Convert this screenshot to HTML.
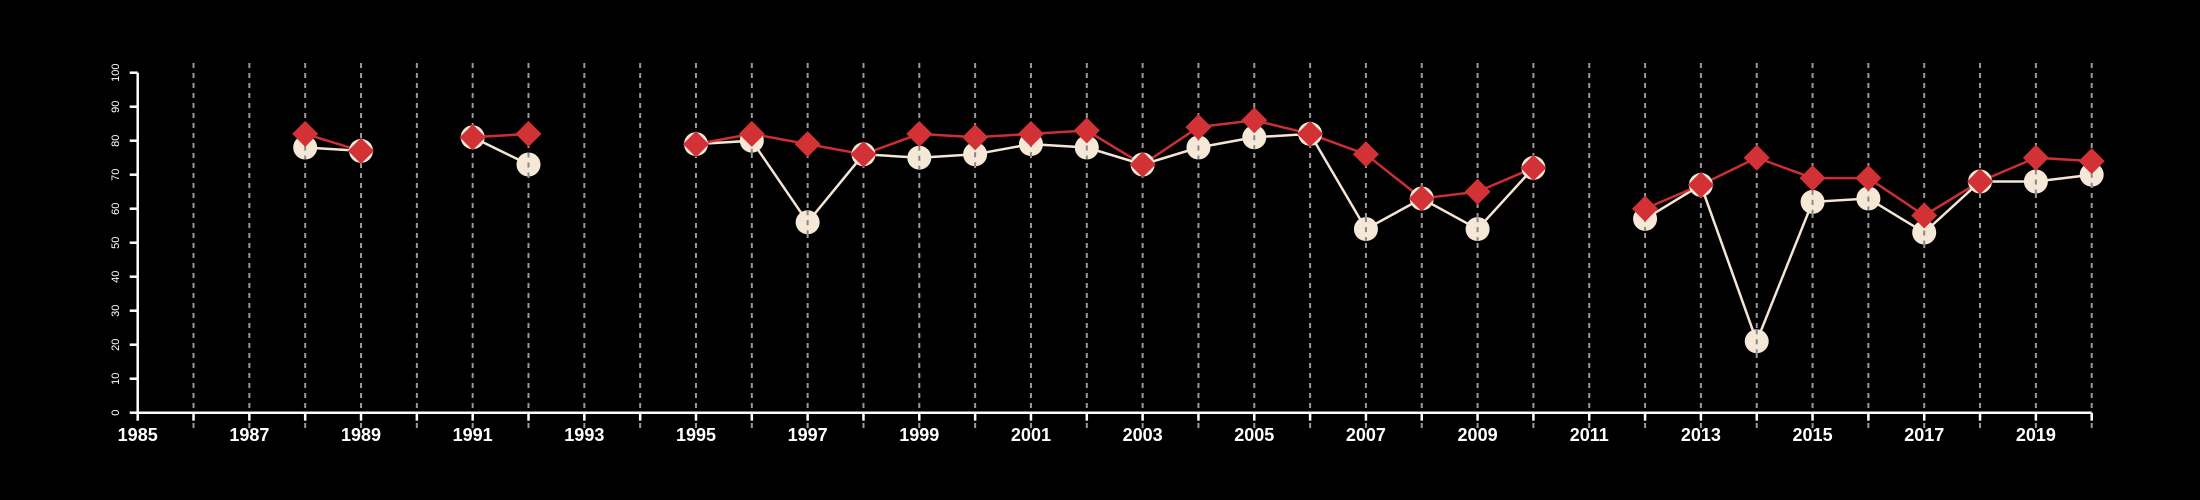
<!DOCTYPE html>
<html><head><meta charset="utf-8"><style>
html,body{margin:0;padding:0;background:#000;}
svg{display:block;font-family:"Liberation Sans",sans-serif;}
</style></head><body>
<svg id="chart" width="2200" height="500" viewBox="0 0 2200 500">
<g id="grid"></g>
<g id="axes"></g>
<g id="series"></g>
</svg>
<script>
const years = [1988,1989,1990,1991,1992,1993,1994,1995,1996,1997,1998,1999,2000,2001,2002,2003,2004,2005,2006,2007,2008,2009,2010,2011,2012,2013,2014,2015,2016,2017,2018,2019,2020];
const whiteSeries = [78,77,null,81,73,null,null,79,80,56,76,75,76,79,78,73,78,81,82,54,63,54,72,null,57,67,21,62,63,53,68,68,70];
const redSeries = [82,77,null,81,82,null,null,79,82,79,76,82,81,82,83,73,84,86,82,76,63,65,72,null,60,67,75,69,69,58,68,75,74];
const yTicks = [0,10,20,30,40,50,60,70,80,90,100];
const xLabels = [1985,1987,1989,1991,1993,1995,1997,1999,2001,2003,2005,2007,2009,2011,2013,2015,2017,2019];
const xMin=1985,xMax=2020,yMin=0,yMax=100;
const X0=137.7,X1=2091.7,Y0=412.7,Y1=72.7;
const sx=v=>X0+(v-xMin)*(X1-X0)/(xMax-xMin);
const sy=v=>Y0-(v-yMin)*(Y0-Y1)/(yMax-yMin);
const NS="http://www.w3.org/2000/svg";
function mk(tag,attrs,parent){const e=document.createElementNS(NS,tag);for(const k in attrs)e.setAttribute(k,attrs[k]);parent.appendChild(e);return e;}
const grid=document.getElementById('grid'),axes=document.getElementById('axes'),series=document.getElementById('series');
// axes
let a=mk('line',{x1:X0,y1:Y0,x2:X1,y2:Y0,stroke:'#fff','stroke-width':2.5},axes);


a=mk('line',{x1:X0,y1:Y0,x2:X0,y2:Y1,stroke:'#fff','stroke-width':2.5},axes);


yTicks.forEach(t=>{
 const l=mk('line',{x1:X0-8,y1:sy(t),x2:X0,y2:sy(t),stroke:'#fff','stroke-width':2.5},axes);
 
 
 const tx=mk('text',{x:0,y:0,fill:'#fff','font-size':11,'text-anchor':'middle',transform:`translate(119,${sy(t)}) rotate(-90)`},axes);
 tx.textContent=t;
 
 
});
for(let y=xMin;y<=xMax;y++){
 const l=mk('line',{x1:sx(y),y1:Y0,x2:sx(y),y2:Y0+8,stroke:'#fff','stroke-width':2.5},axes);
 
 
 if(y>xMin){
  const g=mk('line',{x1:sx(y),y1:63,x2:sx(y),y2:428,stroke:'#999','stroke-width':2,'stroke-dasharray':'5 5'},grid);
  
  
 }
}
xLabels.forEach(t=>{
 const tx=mk('text',{x:sx(t),y:441,fill:'#fff','font-size':18,'font-weight':'bold','text-anchor':'middle'},axes);
 tx.textContent=t;
 
 
});
function segs(vals){const out=[];let cur=[];vals.forEach((v,i)=>{if(v==null){if(cur.length)out.push(cur);cur=[];}else cur.push([sx(years[i]),sy(v)]);});if(cur.length)out.push(cur);return out;}
function drawLine(vals,color,name){segs(vals).forEach(s=>{if(s.length<2)return;const p=mk('polyline',{points:s.map(q=>q.join(',')).join(' '),fill:'none',stroke:color,'stroke-width':2.5},series);});}
drawLine(whiteSeries,'#f3e6d4','white-series-line');
drawLine(redSeries,'#cc2f33','red-series-line');
whiteSeries.forEach((v,i)=>{if(v==null)return;const c=mk('circle',{cx:sx(years[i]),cy:sy(v),r:12,fill:'#f5e8d6'},series);
 const d=mk('line',{x1:sx(years[i]),y1:sy(v)-12,x2:sx(years[i]),y2:sy(v)+12,stroke:'#888','stroke-width':2,'stroke-dasharray':'5 5'},series);});
redSeries.forEach((v,i)=>{if(v==null)return;const x=sx(years[i]),y=sy(v),r=13;const p=mk('polygon',{points:`${x},${y-r} ${x+r},${y} ${x},${y+r} ${x-r},${y}`,fill:'#d23236'},series);});
</script>
</body></html>
